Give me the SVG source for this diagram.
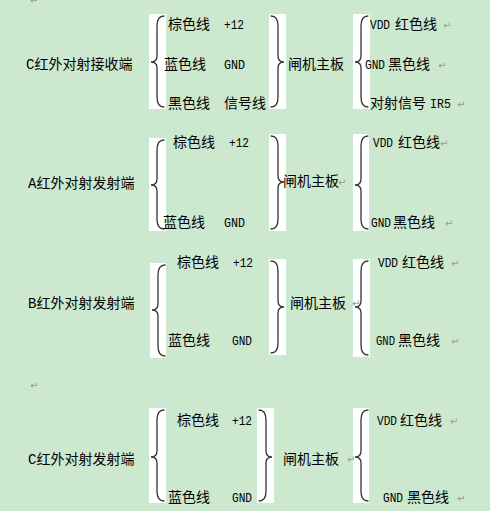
<svg xmlns="http://www.w3.org/2000/svg" width="490" height="511" viewBox="0 0 490 511">
<style>
.t{font-family:"Noto Sans CJK SC",sans-serif;font-size:14px;fill:#000}
.h{font-family:"Liberation Mono","Noto Sans CJK SC",monospace;font-size:14px;fill:#000}
.l{font-family:"Liberation Mono",monospace;font-size:13px;fill:#000}
.r{font-family:"DejaVu Sans",sans-serif;font-size:10px;fill:#999}
.w{fill:#fff}
.b{fill:none;stroke:#333;stroke-width:1.3;stroke-linecap:round}
</style>
<rect width="490" height="511" fill="#CCE8CF"/>
<text class="r" x="30" y="4">↵</text>
<g id="connectors">
<rect class="w" x="149" y="14" width="17" height="95"/>
<rect class="w" x="269" y="14" width="17" height="95"/>
<rect class="w" x="353" y="14" width="17" height="95"/>
<rect class="w" x="149" y="138" width="17" height="93"/>
<rect class="w" x="269" y="134" width="17" height="97"/>
<rect class="w" x="353" y="134" width="16" height="97"/>
<rect class="w" x="150" y="263" width="16" height="95"/>
<rect class="w" x="269" y="259" width="17" height="96"/>
<rect class="w" x="353" y="259" width="17" height="98"/>
<rect class="w" x="149" y="408" width="17" height="95"/>
<rect class="w" x="257" y="408" width="17" height="95"/>
<rect class="w" x="353" y="408" width="16" height="95"/>
<path class="b" d="M164 16 C159 16 157 19 157 26 L157 56 C157 60 155 62 151 62 C155 62 157 64 157 68 L157 97 C157 104 159 107 164 107"/>
<path class="b" d="M271 16 C276 16 278 19 278 26 L278 56 C278 60 280 62 284 62 C280 62 278 64 278 68 L278 97 C278 104 276 107 271 107"/>
<path class="b" d="M368 16 C363 16 361 19 361 26 L361 56 C361 60 359 62 355 62 C359 62 361 64 361 68 L361 97 C361 104 363 107 368 107"/>
<path class="b" d="M164 140 C159 140 157 143 157 150 L157 179 C157 183 155 185 151 185 C155 185 157 187 157 191 L157 219 C157 226 159 229 164 229"/>
<path class="b" d="M271 136 C276 136 278 139 278 146 L278 176 C278 180 280 182 284 182 C280 182 278 184 278 188 L278 219 C278 226 276 229 271 229"/>
<path class="b" d="M368 136 C363 136 361 139 361 146 L361 179 C361 183 359 185 355 185 C359 185 361 187 361 191 L361 219 C361 226 363 229 368 229"/>
<path class="b" d="M165 265 C160 265 158 268 158 275 L158 304 C158 308 156 310 152 310 C156 310 158 312 158 316 L158 346 C158 353 160 356 165 356"/>
<path class="b" d="M271 261 C276 261 278 264 278 271 L278 301 C278 305 280 307 284 307 C280 307 278 309 278 313 L278 343 C278 350 276 353 271 353"/>
<path class="b" d="M368 261 C363 261 361 264 361 271 L361 301 C361 305 359 307 355 307 C359 307 361 309 361 313 L361 345 C361 352 363 355 368 355"/>
<path class="b" d="M164 410 C159 410 157 413 157 420 L157 451 C157 455 155 457 151 457 C155 457 157 459 157 463 L157 491 C157 498 159 501 164 501"/>
<path class="b" d="M259 410 C264 410 266 413 266 420 L266 451 C266 455 268 457 272 457 C268 457 266 459 266 463 L266 491 C266 498 264 501 259 501"/>
<path class="b" d="M368 410 C363 410 361 413 361 420 L361 451 C361 455 359 457 355 457 C359 457 361 459 361 463 L361 491 C361 498 363 501 368 501"/>
</g>
<g id="row1">
<g id="n-c-recv"><text class="h" x="26" y="69">C红外对射接收端</text></g>
<g id="n-c-recv-wires">
<text class="t" x="168" y="29">棕色线</text><text class="l" x="224" y="29" textLength="20" lengthAdjust="spacingAndGlyphs">+12</text>
<text class="t" x="164" y="69">蓝色线</text><text class="l" x="224" y="69" textLength="21" lengthAdjust="spacingAndGlyphs">GND</text>
<text class="t" x="168" y="108">黑色线</text><text class="t" x="224" y="108">信号线</text>
</g>
<g id="n-board1"><text class="t" x="288" y="69">闸机主板</text></g>
<g id="n-board1-pins">
<text class="l" x="370" y="29" textLength="20" lengthAdjust="spacingAndGlyphs">VDD</text><text class="t" x="395" y="29">红色线</text><text class="r" x="443" y="29">↵</text>
<text class="l" x="365" y="69" textLength="20" lengthAdjust="spacingAndGlyphs">GND</text><text class="t" x="388" y="69">黑色线</text><text class="r" x="438" y="69">↵</text>
<text class="t" x="370" y="108">对射信号</text><text class="l" x="430" y="108" textLength="21" lengthAdjust="spacingAndGlyphs">IR5</text><text class="r" x="457" y="108">↵</text>
</g>
</g>
<g id="row2">
<g id="n-a-send"><text class="h" x="28" y="188">A红外对射发射端</text></g>
<g id="n-a-send-wires">
<text class="t" x="173" y="147">棕色线</text><text class="l" x="229" y="147" textLength="20" lengthAdjust="spacingAndGlyphs">+12</text>
<text class="t" x="163" y="227">蓝色线</text><text class="l" x="224" y="227" textLength="21" lengthAdjust="spacingAndGlyphs">GND</text>
</g>
<g id="n-board2"><text class="t" x="283" y="186">闸机主板</text><text class="r" x="338" y="186">↵</text></g>
<g id="n-board2-pins">
<text class="l" x="373" y="147" textLength="20" lengthAdjust="spacingAndGlyphs">VDD</text><text class="t" x="398" y="147">红色线</text><text class="r" x="440" y="147">↵</text>
<text class="l" x="371" y="227" textLength="20" lengthAdjust="spacingAndGlyphs">GND</text><text class="t" x="393" y="227">黑色线</text><text class="r" x="445" y="227">↵</text>
</g>
</g>
<g id="row3">
<g id="n-b-send"><text class="h" x="28" y="307.5">B红外对射发射端</text></g>
<g id="n-b-send-wires">
<text class="t" x="177" y="267">棕色线</text><text class="l" x="233" y="267" textLength="20" lengthAdjust="spacingAndGlyphs">+12</text>
<text class="t" x="168" y="345">蓝色线</text><text class="l" x="232" y="345" textLength="20" lengthAdjust="spacingAndGlyphs">GND</text>
</g>
<g id="n-board3"><text class="t" x="290" y="307.5">闸机主板</text><text class="r" x="352" y="307">↵</text></g>
<g id="n-board3-pins">
<text class="l" x="378" y="267" textLength="20" lengthAdjust="spacingAndGlyphs">VDD</text><text class="t" x="402" y="267">红色线</text><text class="r" x="451" y="267">↵</text>
<text class="l" x="376" y="345" textLength="19" lengthAdjust="spacingAndGlyphs">GND</text><text class="t" x="398" y="345">黑色线</text><text class="r" x="451" y="345">↵</text>
</g>
</g>
<text class="r" x="30" y="389">↵</text>
<g id="row4">
<g id="n-c-send"><text class="h" x="28" y="463.5">C红外对射发射端</text></g>
<g id="n-c-send-wires">
<text class="t" x="177" y="425">棕色线</text><text class="l" x="232" y="425" textLength="20" lengthAdjust="spacingAndGlyphs">+12</text>
<text class="t" x="168" y="501.5">蓝色线</text><text class="l" x="232" y="501.5" textLength="20" lengthAdjust="spacingAndGlyphs">GND</text>
</g>
<g id="n-board4"><text class="t" x="283" y="463.5">闸机主板</text><text class="r" x="347" y="463">↵</text></g>
<g id="n-board4-pins">
<text class="l" x="377" y="425" textLength="20" lengthAdjust="spacingAndGlyphs">VDD</text><text class="t" x="400" y="425">红色线</text><text class="r" x="450" y="425">↵</text>
<text class="l" x="383" y="501.5" textLength="20" lengthAdjust="spacingAndGlyphs">GND</text><text class="t" x="407" y="501.5">黑色线</text><text class="r" x="457" y="501.5">↵</text>
</g>
</g>
</svg>
